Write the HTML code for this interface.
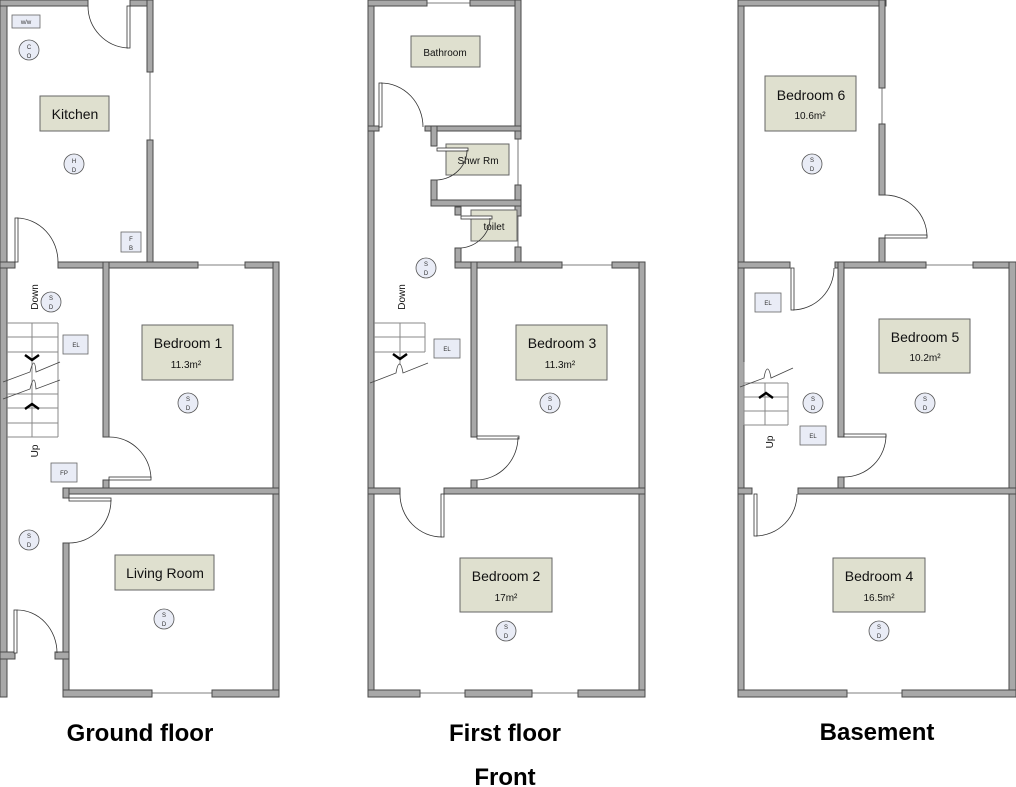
<!DOCTYPE html>
<html><head><meta charset="utf-8"><style>
body{margin:0;background:#fff;width:1016px;height:787px;overflow:hidden}
svg{display:block;font-family:"Liberation Sans",sans-serif}
.w{fill:#a8a8a8;stroke:#4a4a4a;stroke-width:1}
.lab{fill:#dfe0cf;stroke:#666;stroke-width:1}
.sd{fill:#e9ecf6;stroke:#555;stroke-width:0.8}
.box{fill:#e9ecf6;stroke:#666;stroke-width:0.8}
.arc{fill:none;stroke:#333;stroke-width:0.8}
.leaf{fill:#fff;stroke:#333;stroke-width:0.8}
.win{stroke:#555;stroke-width:0.8}
.st{stroke:#888;stroke-width:1;fill:none}
.t{font-size:14px;fill:#111;text-anchor:middle}
.s{font-size:10px;fill:#111;text-anchor:middle}
.xs{font-size:6px;fill:#333;text-anchor:middle}
.h{font-size:24px;font-weight:bold;fill:#000;text-anchor:middle}
</style></head><body>
<svg width="1016" height="787" viewBox="0 0 1016 787">
<!-- ================= GROUND FLOOR ================= -->
<rect class="w" x="0" y="0" width="7" height="697"/>
<rect class="w" x="0" y="0" width="88" height="6"/>
<rect class="w" x="130" y="0" width="23" height="6"/>
<rect class="w" x="147" y="0" width="6" height="72"/>
<line class="win" x1="150" y1="72" x2="150" y2="140"/>
<rect class="w" x="147" y="140" width="6" height="126"/>
<rect class="w" x="0" y="262" width="15" height="6"/>
<rect class="w" x="58" y="262" width="140" height="6"/>
<line class="win" x1="198" y1="265" x2="245" y2="265"/>
<rect class="w" x="245" y="262" width="34" height="6"/>
<rect class="w" x="103" y="262" width="6" height="175"/>
<rect class="w" x="103" y="480" width="6" height="14"/>
<rect class="w" x="273" y="262" width="6" height="435"/>
<rect class="w" x="63" y="488" width="216" height="6"/>
<rect class="w" x="63" y="488" width="6" height="10"/>
<rect class="w" x="63" y="543" width="6" height="154"/>
<rect class="w" x="63" y="690" width="89" height="7"/>
<line class="win" x1="152" y1="693" x2="212" y2="693"/>
<rect class="w" x="212" y="690" width="67" height="7"/>
<rect class="w" x="0" y="652" width="15" height="7"/>
<rect class="w" x="55" y="652" width="14" height="7"/>
<!-- doors -->
<rect class="leaf" x="127" y="6" width="3" height="42"/><path class="arc" d="M88,6 A42,42 0 0 0 128,48"/>
<rect class="leaf" x="15" y="218" width="3" height="44"/><path class="arc" d="M17,218 A42,44 0 0 1 58,262"/>
<rect class="leaf" x="109" y="477" width="42" height="3"/><path class="arc" d="M109,437 A42,43 0 0 1 151,478"/>
<rect class="leaf" x="69" y="498" width="42" height="3"/><path class="arc" d="M111,500 A42,43 0 0 1 69,543"/>
<rect class="leaf" x="14" y="610" width="3" height="43"/><path class="arc" d="M17,610 A40,43 0 0 1 57,653"/>
<!-- stairs -->
<g class="st">
<line x1="7" y1="323" x2="58" y2="323"/><line x1="7" y1="337" x2="58" y2="337"/><line x1="7" y1="352" x2="58" y2="352"/>
<line x1="7" y1="394" x2="58" y2="394"/><line x1="7" y1="408" x2="58" y2="408"/><line x1="7" y1="423" x2="58" y2="423"/><line x1="7" y1="437" x2="58" y2="437"/>
<line x1="58" y1="323" x2="58" y2="437"/><line x1="32" y1="323" x2="32" y2="437"/>
</g>
<path d="M3,382 L30,372 C33,360 35,360 36,372 L60,362 M3,399 L30,389 C33,377 35,377 36,389 L60,380" fill="none" stroke="#444" stroke-width="0.8"/>
<path d="M25,355 L32,360 L39,355" fill="none" stroke="#000" stroke-width="2.5"/>
<path d="M25,409 L32,404 L39,409" fill="none" stroke="#000" stroke-width="2.5"/>
<text class="s" font-size="15" transform="translate(38,297) rotate(-90)">Down</text>
<text class="s" font-size="15" transform="translate(38,451) rotate(-90)">Up</text>
<!-- labels -->
<rect class="lab" x="40" y="96" width="69" height="35"/><text class="t" x="75" y="119">Kitchen</text>
<rect class="lab" x="142" y="325" width="91" height="55"/><text class="t" x="188" y="348">Bedroom 1</text><text class="s" x="186" y="368">11.3m²</text>
<rect class="lab" x="115" y="555" width="99" height="35"/><text class="t" x="165" y="578">Living Room</text>
<rect class="box" x="12" y="15" width="28" height="13"/><text class="xs" x="26" y="24">w/w</text>
<circle class="sd" cx="29" cy="50" r="10"/><text class="xs" x="29" y="49">C</text><text class="xs" x="29" y="58">O</text>
<circle class="sd" cx="74" cy="164" r="10"/><text class="xs" x="74" y="163">H</text><text class="xs" x="74" y="172">D</text>
<rect class="box" x="121" y="232" width="20" height="20"/><text class="xs" x="131" y="241">F</text><text class="xs" x="131" y="250">B</text>
<circle class="sd" cx="51" cy="302" r="10"/><text class="xs" x="51" y="300">S</text><text class="xs" x="51" y="309">D</text>
<rect class="box" x="63" y="335" width="25" height="19"/><text class="xs" x="76" y="347">EL</text>
<circle class="sd" cx="188" cy="403" r="10"/><text class="xs" x="188" y="401">S</text><text class="xs" x="188" y="410">D</text>
<rect class="box" x="51" y="463" width="26" height="19"/><text class="xs" x="64" y="475">FP</text>
<circle class="sd" cx="29" cy="540" r="10"/><text class="xs" x="29" y="538">S</text><text class="xs" x="29" y="547">D</text>
<circle class="sd" cx="164" cy="619" r="10"/><text class="xs" x="164" y="617">S</text><text class="xs" x="164" y="626">D</text>

<!-- ================= FIRST FLOOR ================= -->
<rect class="w" x="368" y="0" width="6" height="697"/>
<rect class="w" x="368" y="0" width="59" height="6"/>
<line class="win" x1="427" y1="3" x2="470" y2="3"/>
<rect class="w" x="470" y="0" width="51" height="6"/>
<rect class="w" x="515" y="0" width="6" height="139"/>
<line class="win" x1="518" y1="139" x2="518" y2="185"/>
<rect class="w" x="515" y="185" width="6" height="31"/>
<line class="win" x1="518" y1="216" x2="518" y2="247"/>
<rect class="w" x="515" y="247" width="6" height="21"/>
<rect class="w" x="368" y="126" width="11" height="5"/>
<rect class="w" x="425" y="126" width="96" height="5"/>
<rect class="w" x="431" y="126" width="6" height="20"/>
<rect class="w" x="431" y="180" width="6" height="26"/>
<rect class="w" x="431" y="200" width="90" height="6"/>
<rect class="w" x="455" y="207" width="6" height="8"/>
<rect class="w" x="455" y="248" width="6" height="20"/>
<rect class="w" x="455" y="262" width="107" height="6"/>
<line class="win" x1="562" y1="265" x2="612" y2="265"/>
<rect class="w" x="612" y="262" width="33" height="6"/>
<rect class="w" x="471" y="262" width="6" height="175"/>
<rect class="w" x="471" y="480" width="6" height="14"/>
<rect class="w" x="639" y="262" width="6" height="435"/>
<rect class="w" x="368" y="488" width="32" height="6"/>
<rect class="w" x="444" y="488" width="201" height="6"/>
<rect class="w" x="368" y="690" width="52" height="7"/>
<line class="win" x1="420" y1="693" x2="465" y2="693"/>
<rect class="w" x="465" y="690" width="67" height="7"/>
<line class="win" x1="532" y1="693" x2="578" y2="693"/>
<rect class="w" x="578" y="690" width="67" height="7"/>
<!-- labels -->
<rect class="lab" x="411" y="36" width="69" height="31"/><text class="s" x="445" y="56" font-size="11">Bathroom</text>
<rect class="lab" x="446" y="144" width="63" height="31"/><text class="s" x="478" y="164" font-size="11">Shwr Rm</text>
<rect class="lab" x="471" y="210" width="46" height="31"/><text class="s" x="494" y="230" font-size="11">toilet</text>
<rect class="lab" x="516" y="325" width="91" height="55"/><text class="t" x="562" y="348">Bedroom 3</text><text class="s" x="560" y="368">11.3m²</text>
<rect class="lab" x="460" y="558" width="92" height="54"/><text class="t" x="506" y="581">Bedroom 2</text><text class="s" x="506" y="601">17m²</text>
<!-- doors -->
<rect class="leaf" x="379" y="83" width="3" height="44"/><path class="arc" d="M381,83 A42,44 0 0 1 423,127"/>
<rect class="leaf" x="437" y="148" width="31" height="3"/><path class="arc" d="M467,150 A32,30 0 0 1 437,180"/>
<rect class="leaf" x="461" y="216" width="31" height="3"/><path class="arc" d="M490,218 A32,30 0 0 1 461,248"/>
<rect class="leaf" x="477" y="436" width="42" height="3"/><path class="arc" d="M518,437 A42,43 0 0 1 477,480"/>
<rect class="leaf" x="441" y="494" width="3" height="43"/><path class="arc" d="M400,494 A42,43 0 0 0 442,537"/>
<!-- stairs -->
<g class="st">
<line x1="374" y1="323" x2="425" y2="323"/><line x1="374" y1="337" x2="425" y2="337"/><line x1="374" y1="352" x2="425" y2="352"/>
<line x1="425" y1="323" x2="425" y2="352"/><line x1="400" y1="323" x2="400" y2="365"/>
</g>
<path d="M370,383 L396,373 C398,361 401,361 403,373 L428,363" fill="none" stroke="#444" stroke-width="0.8"/>
<path d="M393,354 L400,359 L407,354" fill="none" stroke="#000" stroke-width="2.5"/>
<text class="s" font-size="15" transform="translate(405,297) rotate(-90)">Down</text>
<circle class="sd" cx="426" cy="268" r="10"/><text class="xs" x="426" y="266">S</text><text class="xs" x="426" y="275">D</text>
<rect class="box" x="434" y="339" width="26" height="19"/><text class="xs" x="447" y="351">EL</text>
<circle class="sd" cx="550" cy="403" r="10"/><text class="xs" x="550" y="401">S</text><text class="xs" x="550" y="410">D</text>
<circle class="sd" cx="506" cy="631" r="10"/><text class="xs" x="506" y="629">S</text><text class="xs" x="506" y="638">D</text>

<!-- ================= BASEMENT ================= -->
<rect class="w" x="738" y="0" width="6" height="697"/>
<rect class="w" x="738" y="0" width="148" height="6"/>
<rect class="w" x="879" y="0" width="6" height="88"/>
<line class="win" x1="882" y1="88" x2="882" y2="124"/>
<rect class="w" x="879" y="124" width="6" height="71"/>
<rect class="w" x="879" y="238" width="6" height="30"/>
<rect class="w" x="738" y="262" width="52" height="6"/>
<rect class="w" x="835" y="262" width="91" height="6"/>
<line class="win" x1="926" y1="265" x2="973" y2="265"/>
<rect class="w" x="973" y="262" width="43" height="6"/>
<rect class="w" x="1009" y="262" width="7" height="435"/>
<rect class="w" x="838" y="262" width="6" height="175"/>
<rect class="w" x="838" y="477" width="6" height="17"/>
<rect class="w" x="738" y="488" width="14" height="6"/>
<rect class="w" x="798" y="488" width="218" height="6"/>
<rect class="w" x="738" y="690" width="109" height="7"/>
<line class="win" x1="847" y1="693" x2="902" y2="693"/>
<rect class="w" x="902" y="690" width="114" height="7"/>
<!-- doors -->
<rect class="leaf" x="885" y="235" width="42" height="3"/><path class="arc" d="M885,195 A42,42 0 0 1 927,237"/>
<rect class="leaf" x="791" y="268" width="3" height="42"/><path class="arc" d="M834,268 A42,42 0 0 1 793,310"/>
<rect class="leaf" x="844" y="434" width="42" height="3"/><path class="arc" d="M886,435 A42,42 0 0 1 844,477"/>
<rect class="leaf" x="754" y="494" width="3" height="42"/><path class="arc" d="M797,494 A42,42 0 0 1 756,536"/>
<!-- stairs -->
<g class="st">
<line x1="744" y1="383" x2="788" y2="383"/><line x1="744" y1="397" x2="788" y2="397"/><line x1="744" y1="411" x2="788" y2="411"/><line x1="744" y1="425" x2="788" y2="425"/>
<line x1="788" y1="383" x2="788" y2="425"/><line x1="765" y1="383" x2="765" y2="425"/><line x1="744" y1="362" x2="744" y2="425"/>
</g>
<path d="M740,387 L764,378 C766,366 769,366 771,378 L793,368" fill="none" stroke="#444" stroke-width="0.8"/>
<path d="M759,398 L766,393 L773,398" fill="none" stroke="#000" stroke-width="2.5"/>
<text class="s" font-size="15" transform="translate(773,442) rotate(-90)">Up</text>
<!-- labels -->
<rect class="lab" x="765" y="76" width="91" height="55"/><text class="t" x="811" y="100">Bedroom 6</text><text class="s" x="810" y="119">10.6m²</text>
<rect class="lab" x="879" y="319" width="91" height="54"/><text class="t" x="925" y="342">Bedroom 5</text><text class="s" x="925" y="361">10.2m²</text>
<rect class="lab" x="833" y="558" width="92" height="54"/><text class="t" x="879" y="581">Bedroom 4</text><text class="s" x="879" y="601">16.5m²</text>
<circle class="sd" cx="812" cy="164" r="10"/><text class="xs" x="812" y="162">S</text><text class="xs" x="812" y="171">D</text>
<rect class="box" x="755" y="293" width="26" height="19"/><text class="xs" x="768" y="305">EL</text>
<circle class="sd" cx="813" cy="403" r="10"/><text class="xs" x="813" y="401">S</text><text class="xs" x="813" y="410">D</text>
<rect class="box" x="800" y="426" width="26" height="19"/><text class="xs" x="813" y="438">EL</text>
<circle class="sd" cx="925" cy="403" r="10"/><text class="xs" x="925" y="401">S</text><text class="xs" x="925" y="410">D</text>
<circle class="sd" cx="879" cy="631" r="10"/><text class="xs" x="879" y="629">S</text><text class="xs" x="879" y="638">D</text>

<!-- titles -->
<text class="h" x="140" y="741">Ground floor</text>
<text class="h" x="505" y="741">First floor</text>
<text class="h" x="877" y="740">Basement</text>
<text class="h" x="505" y="785">Front</text>
</svg>
</body></html>
